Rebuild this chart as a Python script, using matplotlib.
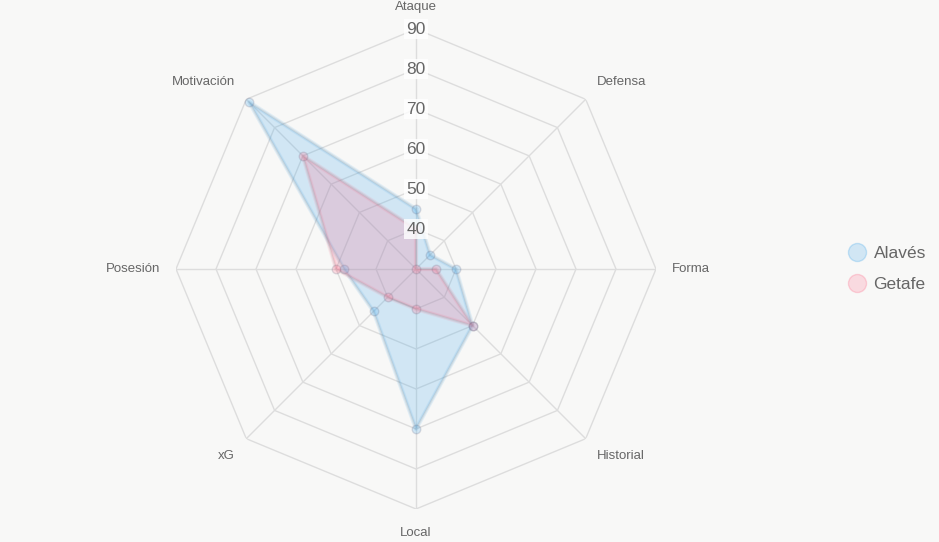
import numpy as np
import matplotlib.pyplot as plt
from matplotlib.lines import Line2D

plt.rcParams['font.family'] = ['Liberation Sans', 'DejaVu Sans']

categories = ['Ataque', 'Defensa', 'Forma', 'Historial', 'Local', 'xG', 'Posesión', 'Motivación']
alaves = [45, 35, 40, 50, 70, 45, 48, 89]
getafe = [40, 30, 35, 50, 40, 40, 50, 70]
ticks = [40, 50, 60, 70, 80, 90]
rmin, rmax = 30, 90

BG = '#f8f8f7'
GRID = '#dddddd'
TXT = '#666666'
blue = (54/255, 162/255, 235/255)
pink = (255/255, 99/255, 132/255)

fig = plt.figure(figsize=(9.39, 5.42), dpi=100, facecolor=BG)
ax = fig.add_axes([176/939, 33/542, 480/939, 480/542], projection='polar', facecolor=BG)
ax.set_theta_offset(np.pi / 2)
ax.set_theta_direction(-1)
ax.set_ylim(rmin, rmax)
ax.grid(False)
ax.spines['polar'].set_visible(False)
ax.set_xticks([]); ax.set_yticks([])

n = len(categories)
theta = np.linspace(0, 2*np.pi, n, endpoint=False)
theta_c = np.append(theta, theta[0])

# polygon grid + spokes
for t in ticks:
    ax.plot(theta_c, [t]*(n+1), color=GRID, lw=1, zorder=1)
for th in theta:
    ax.plot([th, th], [rmin, rmax], color=GRID, lw=1, zorder=1)

def draw(vals, col, z):
    v = np.append(vals, vals[0])
    ax.fill(theta_c, v, color=(*col, 0.2), lw=0, zorder=z)
    ax.plot(theta_c, v, color=(*col, 0.12), lw=3, zorder=z+0.1)
    ax.plot(theta_c, v, color=(0.45, 0.45, 0.45, 0.14), lw=1.5, zorder=z+0.2)
    ax.scatter(theta, vals, s=38, facecolor=(*col, 0.2), edgecolor=(0.4, 0.4, 0.5, 0.2),
               linewidth=1, zorder=z+0.3, clip_on=False)

draw(alaves, blue, 2)
draw(getafe, pink, 3)

# tick labels with white backdrop
for t in ticks:
    ax.text(0, t, str(t), ha='center', va='center', fontsize=12.5, color=TXT, zorder=10,
            bbox=dict(boxstyle='square,pad=0.12', fc='white', ec='none', alpha=0.8))

# point labels
lab_r = rmin + 256/4
aligns = [('center', 'bottom'), ('left', 'bottom'), ('left', 'center'), ('left', 'top'),
          ('center', 'top'), ('right', 'top'), ('right', 'center'), ('right', 'bottom')]
for th, name, (ha, va) in zip(theta, categories, aligns):
    r = lab_r + (0.6 if name == 'Local' else 0)
    ax.text(th, r, name, ha=ha, va=va, fontsize=9.5, color=TXT)

handles = [Line2D([], [], ls='none', marker='o', markersize=13,
                  markerfacecolor=(*c, 0.2), markeredgecolor=(*c, 0.25))
           for c in (blue, pink)]
fig.legend(handles, ['Alavés', 'Getafe'], loc='center left',
           bbox_to_anchor=(838/939, 1 - 269/542), frameon=False, fontsize=12.5,
           labelcolor=TXT, handlelength=1.2, handletextpad=0.35, labelspacing=0.95,
           borderpad=0)

fig.savefig('out.png', dpi=100, facecolor=BG)
